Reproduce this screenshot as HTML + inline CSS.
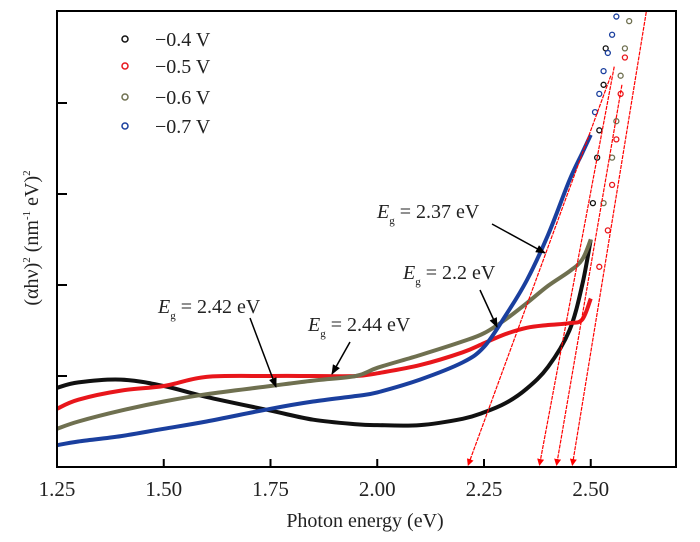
<!DOCTYPE html>
<html><head><meta charset="utf-8"><style>
body{margin:0;background:#fff;}
svg{display:block;font-family:"Liberation Serif",serif;}
</style></head><body>
<svg id="c" width="700" height="542"></svg>
<script>
const xs = [1.25,1.3,1.4,1.5,1.6,1.75,1.85,1.95,2.0,2.1,2.2,2.25,2.3,2.35,2.4,2.45,2.48,2.5];
const blackY = [0.87,0.93,0.96,0.89,0.77,0.62,0.52,0.47,0.46,0.46,0.53,0.60,0.70,0.86,1.10,1.50,2.0,2.5];
const redY   = [0.64,0.74,0.84,0.89,0.99,1.0,1.0,1.0,1.03,1.12,1.26,1.36,1.46,1.53,1.56,1.58,1.62,1.85];
const oliveY = [0.42,0.50,0.62,0.72,0.80,0.89,0.95,1.0,1.09,1.23,1.38,1.47,1.62,1.80,1.99,2.15,2.28,2.50];
const blueY  = [0.24,0.28,0.34,0.42,0.50,0.64,0.72,0.78,0.82,0.96,1.15,1.32,1.66,2.05,2.55,3.15,3.45,3.65];
const blackPtsX=[2.505,2.515,2.52,2.53,2.535];const blackPtsY=[2.9,3.4,3.7,4.2,4.6];
const redPtsX=[2.52,2.54,2.55,2.56,2.57,2.58];const redPtsY=[2.2,2.6,3.1,3.6,4.1,4.5];
const olivePtsX=[2.53,2.55,2.56,2.57,2.58,2.59];const olivePtsY=[2.9,3.4,3.8,4.3,4.6,4.9];
const bluePtsX=[2.51,2.52,2.53,2.54,2.55,2.56];const bluePtsY=[3.9,4.1,4.35,4.55,4.75,4.95];
const fitStart=[2.213,2.38,2.42,2.457];
const fitEnd=[[2.547,4.3],[2.555,4.4],[2.573,4.2],[2.63,5.0]];
const xTicks=[1.25,1.5,1.75,2.0,2.25,2.5];
const xTickLabels=["1.25","1.50","1.75","2.00","2.25","2.50"];
const yTicks=[1,2,3,4];
const X=v=>57+(v-1.25)*427, Y=v=>467-v*91;
const svg=document.getElementById('c');const NS='http://www.w3.org/2000/svg';
function mk(t,a,p){const e=document.createElementNS(NS,t);for(const k in a)e.setAttribute(k,a[k]);(p||svg).appendChild(e);return e;}
function smooth(P){let d='M'+P[0][0].toFixed(1)+','+P[0][1].toFixed(1);
 for(let i=0;i<P.length-1;i++){const p0=P[Math.max(0,i-1)],p1=P[i],p2=P[i+1],p3=P[Math.min(P.length-1,i+2)];
  const c1=[p1[0]+(p2[0]-p0[0])/6,p1[1]+(p2[1]-p0[1])/6],c2=[p2[0]-(p3[0]-p1[0])/6,p2[1]-(p3[1]-p1[1])/6];
  d+=' C'+c1.map(v=>v.toFixed(1))+' '+c2.map(v=>v.toFixed(1))+' '+p2.map(v=>v.toFixed(1));}
 return d;}
const defs=mk('defs',{});
const m2=mk('marker',{id:'rh',markerWidth:7,markerHeight:7,refX:6,refY:3.5,orient:'auto',markerUnits:'userSpaceOnUse'},defs);
mk('path',{d:'M0,0 L7,3.5 L0,7 Z',fill:'#f00'},m2);
const series=[['black',blackY,blackPtsX,blackPtsY,'#111'],['red',redY,redPtsX,redPtsY,'#e8161b'],['olive',oliveY,olivePtsX,olivePtsY,'#6f7050'],['blue',blueY,bluePtsX,bluePtsY,'#1a3f9e']];
series.forEach(s=>{
 const P=xs.map((x,i)=>[X(x),Y(s[1][i])]);
 const p=mk('path',{d:smooth(P),fill:'none',stroke:s[4],'stroke-width':4,'stroke-linejoin':'round'});
 
 
 s[2].forEach((x,i)=>{const c=mk('circle',{cx:X(x),cy:Y(s[3][i]),r:2.5,fill:'none',stroke:s[4],'stroke-width':1.3});
  
  });
});
fitStart.forEach((x0,i)=>{const l=mk('line',{x1:X(fitEnd[i][0]),y1:Y(fitEnd[i][1]),x2:X(x0),y2:465,stroke:'#f00','stroke-width':1.2,'stroke-dasharray':'4,1','marker-end':'url(#rh)'});
 
 });
const fr=mk('rect',{x:57,y:11,width:619,height:456,fill:'none',stroke:'#000','stroke-width':2});

xTicks.forEach((v,i)=>{mk('line',{x1:X(v),x2:X(v),y1:467,y2:459,stroke:'#000','stroke-width':2});
 const t=mk('text',{x:X(v),y:496,'font-size':21,'text-anchor':'middle',fill:'#222'});t.textContent=xTickLabels[i];
 });
yTicks.forEach(v=>{mk('line',{x1:57,x2:67,y1:Y(v),y2:Y(v),stroke:'#000','stroke-width':2});});
</script>
<svg style="position:absolute;left:0;top:0" width="700" height="542">
<defs><marker id="ah2" markerWidth="10" markerHeight="8" refX="9" refY="4" orient="auto" markerUnits="userSpaceOnUse"><path d="M0,0 L10,4 L0,8 Z" fill="#000"/></marker></defs>
<g font-family="Liberation Serif,serif" font-size="20" fill="#222">
<g>
<circle cx="125" cy="39" r="3" fill="none" stroke="#111" stroke-width="1.5"/><text x="155" y="46">−0.4 V</text>
<circle cx="125" cy="66" r="3" fill="none" stroke="#e8161b" stroke-width="1.5"/><text x="155" y="73">−0.5 V</text>
<circle cx="125" cy="97" r="3" fill="none" stroke="#6f7050" stroke-width="1.5"/><text x="155" y="104">−0.6 V</text>
<circle cx="125" cy="126" r="3" fill="none" stroke="#1a3f9e" stroke-width="1.5"/><text x="155" y="133">−0.7 V</text>
</g>
<text transform="translate(38,238) rotate(-90)" text-anchor="middle">(αhν)<tspan font-size="11" dy="-8">2</tspan><tspan dy="8"> (nm</tspan><tspan font-size="11" dy="-8">-1</tspan><tspan dy="8"> eV)</tspan><tspan font-size="11" dy="-8">2</tspan></text>
<text x="365" y="527" text-anchor="middle">Photon energy (eV)</text>
<text x="158" y="313"><tspan font-style="italic">E</tspan><tspan font-size="11" dy="6">g</tspan><tspan dy="-6"> = 2.42 eV</tspan></text>
<text x="308" y="331"><tspan font-style="italic">E</tspan><tspan font-size="11" dy="6">g</tspan><tspan dy="-6"> = 2.44 eV</tspan></text>
<text x="377" y="218"><tspan font-style="italic">E</tspan><tspan font-size="11" dy="6">g</tspan><tspan dy="-6"> = 2.37 eV</tspan></text>
<text x="403" y="279"><tspan font-style="italic">E</tspan><tspan font-size="11" dy="6">g</tspan><tspan dy="-6"> = 2.2 eV</tspan></text>
</g>
<g stroke="#000" stroke-width="1.5" marker-end="url(#ah2)">
<line x1="250" y1="318" x2="276" y2="387"/>
<line x1="350" y1="342" x2="332" y2="374"/>
<line x1="492" y1="224" x2="545" y2="253"/>
<line x1="480" y1="290" x2="497" y2="327"/>
</g>
</svg>
</body></html>
